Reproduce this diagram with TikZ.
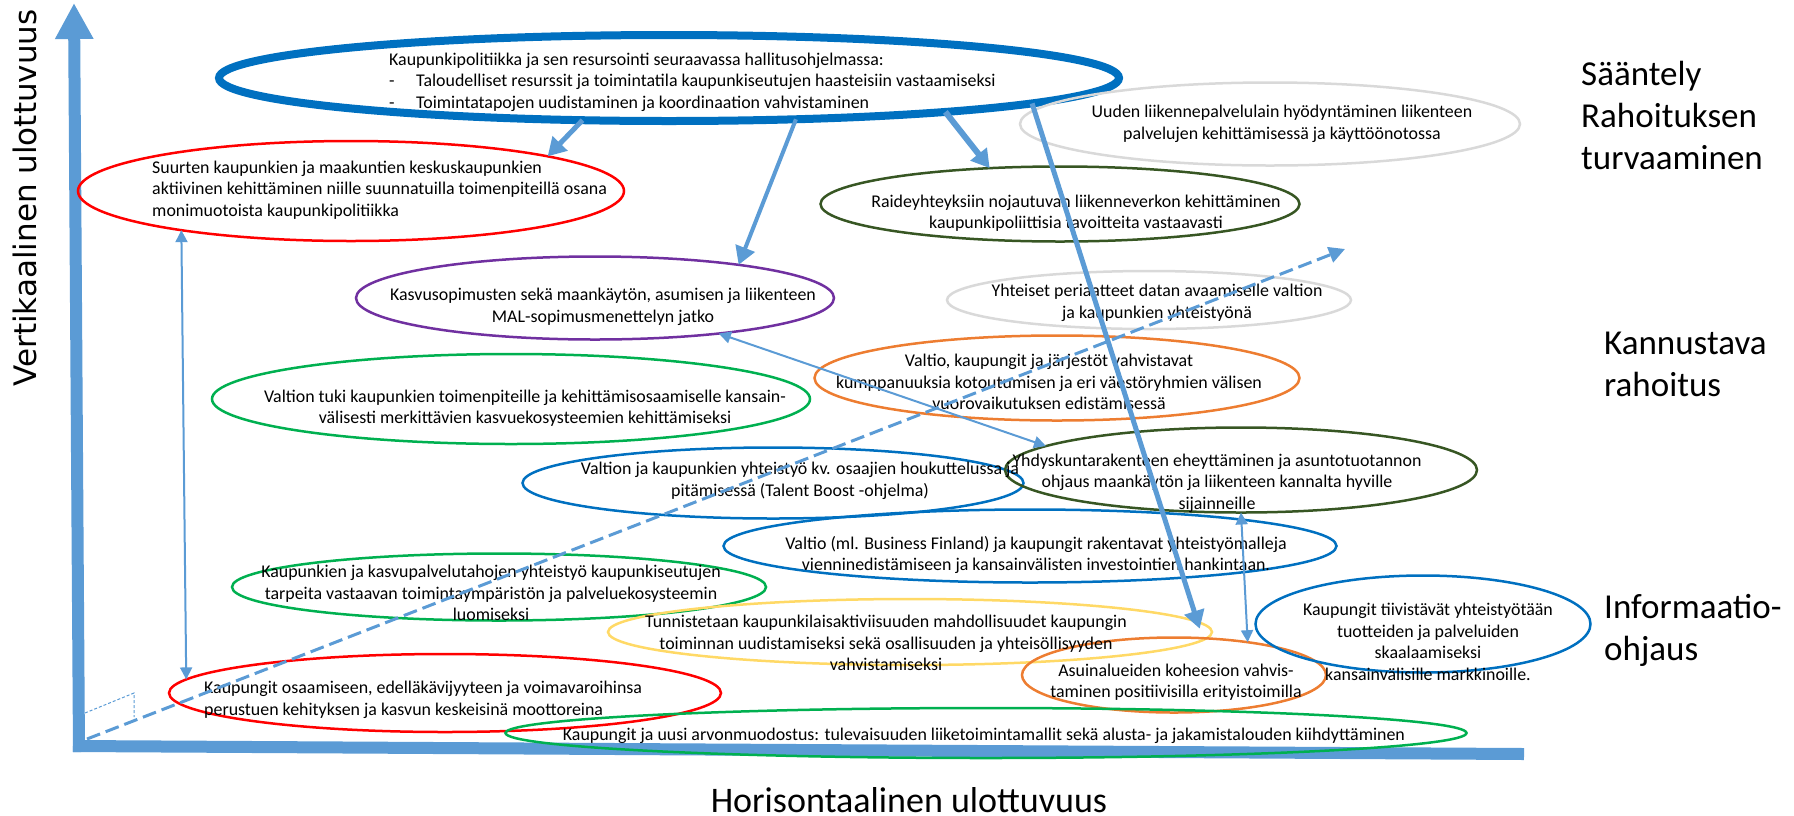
\documentclass[tikz,border=0pt]{standalone}
\usepackage{fontspec}
\setmainfont{Carlito}
\newfontfamily\dvs{DejaVu Sans}
\usetikzlibrary{shapes.geometric,arrows.meta}
\definecolor{axisblue}{HTML}{5B9BD5}
\definecolor{blueE}{HTML}{0070C0}
\definecolor{redE}{HTML}{FF0000}
\definecolor{greenE}{HTML}{00B050}
\definecolor{purpleE}{HTML}{7030A0}
\definecolor{orangeE}{HTML}{ED7D31}
\definecolor{dgreenE}{HTML}{375623}
\definecolor{yellowE}{HTML}{FFD966}
\definecolor{grayE}{HTML}{D9D9D9}
\tikzset{
  ell/.style={ellipse, draw, inner sep=0pt, outer sep=0pt, line width=2.5pt},
  txt/.style={inner sep=0pt, align=center, font=\fontsize{17.9}{21.5}\selectfont},
  txtl/.style={txt, align=left, anchor=west},
  biglbl/.style={inner sep=0pt, align=left, anchor=west, font=\fontsize{35}{42}\selectfont},
  thickarrow/.style={draw=axisblue, line width=5pt, -{Triangle[length=18pt,width=20pt]}},
  thinarrow/.style={draw=axisblue, line width=2pt, {Triangle[length=12pt,width=12pt]}-{Triangle[length=12pt,width=12pt]}},
}
\begin{document}
\begin{tikzpicture}[x=1pt,y=-1pt]
\useasboundingbox (0,0) rectangle (1794,815);

% axes
\coordinate (orig) at (79,752);
\coordinate (vtop) at (74,3);
\coordinate (hstart) at (73,746);
\coordinate (hend) at (1524,754);
\draw[axisblue, line width=12pt, -{Triangle[length=36pt,width=36pt]}] (orig) -- (vtop);
\draw[axisblue, line width=12pt] (hstart) -- (hend);

% small dashed corner marks
\coordinate (m1) at (85,713);
\coordinate (m2) at (134,693);
\coordinate (m3) at (134,717);
\draw[axisblue, line width=1pt, dash pattern=on 3pt off 2pt] (m1) -- (m2) -- (m3);

% axis labels
\node[rotate=90, anchor=base, inner sep=0pt, font=\dvs\fontsize{31}{37}\selectfont] (vlab) at (36,198) {Vertikaalinen ulottuvuus};
\node[inner sep=0pt, font=\fontsize{36}{43}\selectfont] (hlab) at (909,800) {Horisontaalinen ulottuvuus};

% right labels
\node[biglbl] (lab1) at (1581,115) {Sääntely\\Rahoituksen\\turvaaminen};
\node[biglbl] (lab2) at (1604,364) {Kannustava\\rahoitus};
\node[biglbl] (lab3) at (1604,630) {Informaatio-\\ohjaus};

% ellipses
\node[ell, draw=blueE, line width=8pt, minimum width=900pt, minimum height=86pt] (big) at (669,78) {};
\node[ell, draw=redE, minimum width=546pt, minimum height=100pt] (r1) at (351,191) {};
\node[ell, draw=purpleE, minimum width=478pt, minimum height=83pt] (pu) at (595,298) {};
\node[ell, draw=greenE, minimum width=598pt, minimum height=90pt] (g1) at (511,399) {};
\node[ell, draw=blueE, minimum width=501pt, minimum height=71pt] (b2) at (773,483) {};
\node[ell, draw=orangeE, minimum width=485pt, minimum height=85pt] (o1) at (1057,378) {};
\node[ell, draw=dgreenE, minimum width=472pt, minimum height=85pt] (y1) at (1241,470) {};
\node[ell, draw=blueE, minimum width=613pt, minimum height=73pt] (b3) at (1030,546) {};
\node[ell, draw=greenE, minimum width=534pt, minimum height=67pt] (g2) at (499,587) {};
\node[ell, draw=yellowE, minimum width=604pt, minimum height=66pt] (ye) at (910,632) {};
\node[ell, draw=orangeE, minimum width=304pt, minimum height=75pt] (o2) at (1174,675) {};
\node[ell, draw=blueE, minimum width=335pt, minimum height=97pt] (b4) at (1423,624) {};
\node[ell, draw=redE, minimum width=552pt, minimum height=78pt] (r2) at (445,693) {};
\node[ell, draw=greenE, minimum width=961pt, minimum height=50pt] (g3) at (986,733) {};
\node[ell, draw=grayE, minimum width=500pt, minimum height=83pt] (gr1) at (1270,124) {};
\node[ell, draw=dgreenE, minimum width=479pt, minimum height=75pt] (d1) at (1060,204) {};
\node[ell, draw=grayE, minimum width=404pt, minimum height=58pt] (gr2) at (1149,300) {};

% texts
\node[txtl] (tbig) at (389,82) {Kaupunkipolitiikka ja sen resursointi seuraavassa hallitusohjelmassa:\\
\makebox[27pt][l]{-}Taloudelliset resurssit ja toimintatila kaupunkiseutujen haasteisiin vastaamiseksi\\
\makebox[27pt][l]{-}Toimintatapojen uudistaminen ja koordinaation vahvistaminen};
\node[txtl] (tr1) at (152,190) {Suurten kaupunkien ja maakuntien keskuskaupunkien\\aktiivinen kehittäminen niille suunnatuilla toimenpiteillä osana\\monimuotoista kaupunkipolitiikka};
\node[txt] (tpu) at (603,307) {Kasvusopimusten sekä maankäytön, asumisen ja liikenteen\\MAL-sopimusmenettelyn jatko};
\node[txt] (tg1) at (525,408) {Valtion tuki kaupunkien toimenpiteille ja kehittämisosaamiselle kansain-\\välisesti merkittävien kasvuekosysteemien kehittämiseksi};
\node[txt] (tb2) at (800,481) {Valtion ja kaupunkien yhteistyö kv. osaajien houkuttelussa ja\\pitämisessä (Talent Boost -ohjelma)};
\node[txt] (to1) at (1049,382) {Valtio, kaupungit ja järjestöt vahvistavat\\kumppanuuksia kotoutumisen ja eri väestöryhmien välisen\\vuorovaikutuksen edistämisessä};
\node[txt] (ty1) at (1217,483) {Yhdyskuntarakenteen eheyttäminen ja asuntotuotannon\\ohjaus maankäytön ja liikenteen kannalta hyville\\sijainneille};
\node[txt] (tb3) at (1036,555) {Valtio (ml. Business Finland) ja kaupungit rakentavat yhteistyömalleja\\vienninedistämiseen ja kansainvälisten investointien hankintaan.};
\node[txt] (tg2) at (491,593) {Kaupunkien ja kasvupalvelutahojen yhteistyö kaupunkiseutujen\\tarpeita vastaavan toimintaympäristön ja palveluekosysteemin\\luomiseksi};
\node[txt] (tye) at (886,643) {Tunnistetaan kaupunkilaisaktiviisuuden mahdollisuudet kaupungin\\toiminnan uudistamiseksi sekä osallisuuden ja yhteisöllisyyden\\vahvistamiseksi};
\node[txt] (to2) at (1176,682) {Asuinalueiden koheesion vahvis-\\taminen positiivisilla erityistoimilla};
\node[txt] (tb4) at (1428,642) {Kaupungit tiivistävät yhteistyötään\\tuotteiden ja palveluiden\\skaalaamiseksi\\kansainvälisille markkinoille.};
\node[txtl] (tr2) at (204,700) {Kaupungit osaamiseen, edelläkävijyyteen ja voimavaroihinsa\\perustuen kehityksen ja kasvun keskeisinä moottoreina};
\node[txt] (tg3) at (984,736) {Kaupungit ja uusi arvonmuodostus: tulevaisuuden liiketoimintamallit sekä alusta- ja jakamistalouden kiihdyttäminen};
\node[txt] (tgr1) at (1282,124) {Uuden liikennepalvelulain hyödyntäminen liikenteen\\palvelujen kehittämisessä ja käyttöönotossa};
\node[txt] (td1) at (1076,213) {Raideyhteyksiin nojautuvan liikenneverkon kehittäminen\\kaupunkipoliittisia tavoitteita vastaavasti};
\node[txt] (tgr2) at (1157,303) {Yhteiset periaatteet datan avaamiselle valtion\\ja kaupunkien yhteistyönä};

% connectors
\draw[thickarrow] (big.206.4) -- (r1.10.07);
\draw[thickarrow, line width=4pt] (big.342.1) -- (pu.13.8);
\draw[thickarrow, line width=6pt] (big.353.8) -- (d1.153.9);
\draw[thickarrow, shorten >=10pt] (big.356.7) -- (o2.52.8);
\draw[thinarrow] (pu.344.9) -- (y1.173.45);
\draw[thinarrow] (r1.193.7) -- (r2.177.1);
\draw[thinarrow] (y1.270) -- (o2.24.26);

% dashed diagonal
\coordinate (dstart) at (87,739);
\coordinate (dend) at (1345,249);
\draw[axisblue, line width=3pt, dash pattern=on 14pt off 6pt, -{Triangle[length=16pt,width=16pt]}] (dstart) -- (dend);
\end{tikzpicture}
\end{document}
